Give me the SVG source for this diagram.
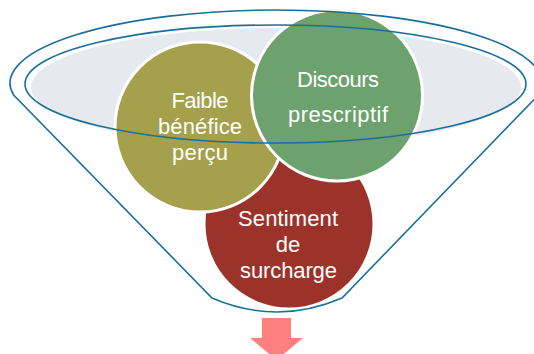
<svg xmlns="http://www.w3.org/2000/svg" width="534" height="354" viewBox="0 0 534 354">
<style>
.lbl{font-family:"Liberation Sans","Arial",sans-serif;font-size:22px;fill:#FFFFFF;text-anchor:middle}
.circ{stroke:#FFFFFF;stroke-width:3}
.line{fill:none;stroke:#1A6F9A;stroke-width:1.6}
</style>
<rect width="534" height="354" fill="#FFFFFF"/>
<g id="funnel-back">
<path d="M13.6,95 A266,73 0 1 1 538.4,95 L342,298 Q277,326 212,298 Z" fill="#FFFFFF"/>
<ellipse cx="276" cy="87" rx="245" ry="59" fill="#E6E9EE"/>
</g>
<g id="node-surcharge">
<circle class="circ" cx="289" cy="224" r="85" fill="#9C332B"/>
<text class="lbl" x="288" y="226" textLength="100">Sentiment</text>
<text class="lbl" x="288" y="252">de</text>
<text class="lbl" x="288.5" y="278" textLength="97">surcharge</text>
</g>
<g id="node-benefice">
<circle class="circ" cx="200" cy="127" r="85" fill="#A5A04B"/>
<text class="lbl" x="200" y="108" textLength="57">Faible</text>
<text class="lbl" x="200" y="134" textLength="84">bénéfice</text>
<text class="lbl" x="200" y="160" textLength="56">perçu</text>
</g>
<g id="node-discours">
<circle class="circ" cx="337" cy="95.5" r="85.5" fill="#6DA26E"/>
<text class="lbl" x="338" y="87" textLength="82">Discours</text>
<text class="lbl" x="338" y="122" textLength="100">prescriptif</text>
</g>
<g id="connectors">
<path class="line" d="M13.6,95 A266,73 0 1 1 538.4,95 L342,298 Q277,326 212,298 Z"/>
<ellipse class="line" cx="275.5" cy="84" rx="250.5" ry="59"/>
<path d="M262,318 H291 V338 H303 L276.5,360 L250,338 H262 Z" fill="#FF7F7F"/>
</g>
</svg>
